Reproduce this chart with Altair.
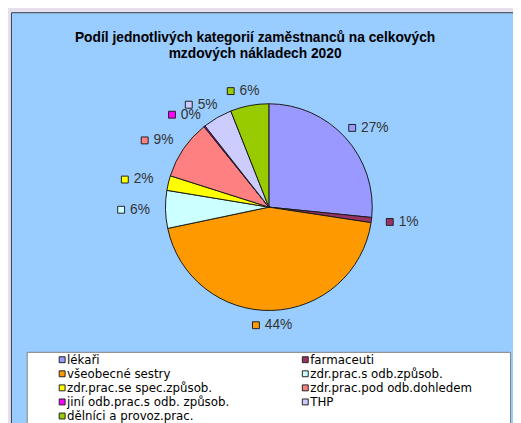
import math
import altair as alt
import pandas as pd

# ---- data ----
categories = [
    "lékaři",
    "farmaceuti",
    "všeobecné sestry",
    "zdr.prac.s odb.způsob.",
    "zdr.prac.se spec.způsob.",
    "zdr.prac.pod odb.dohledem",
    "jiní odb.prac.s odb. způsob.",
    "THP",
    "dělníci a provoz.prac.",
]
shares = [26.6, 0.8, 44.3, 5.9, 2.3, 9.3, 0.2, 4.6, 6.0]
colors = ["#9999ff", "#993366", "#ff9900", "#ccffff", "#ffff00",
          "#ff8080", "#ff00ff", "#ccccff", "#99cc00"]
title_lines = ["Podíl jednotlivých kategorií zaměstnanců na celkových",
               "mzdových nákladech 2020"]

# ---- layout ----
W, H = 513, 415
CX, CY, R = 265, 199, 105
FONT = "Liberation Sans"

pie_df = pd.DataFrame({"cat": categories, "share": shares, "idx": range(len(categories))})

# label positions derived from the slice angles (label groups sit on an ellipse around the pie)
total = sum(shares)
rows = []
cum = 0.0
for i, (c, s) in enumerate(zip(categories, shares)):
    mid = (cum + s / 2) / total * 2 * math.pi
    cum += s
    lab = f"{round(s)}%"
    tw = 7.8 * (len(lab) - 1) + 12.4
    gw = 14 + tw
    gx = CX + 137 * math.sin(mid)
    gy = CY - 120 * math.cos(mid)
    rows.append({"cat": c, "label": lab,
                 "mx": gx - gw / 2 + 4, "tx": gx - gw / 2 + 13, "y": gy})
lab_df = pd.DataFrame(rows)

leg_df = pd.DataFrame({
    "cat": categories,
    "mx": [55 + (i % 2) * 247 for i in range(len(categories))],
    "tx": [60 + (i % 2) * 247 for i in range(len(categories))],
    "y": [354 + (i // 2) * 14.3 for i in range(len(categories))],
})

title_df = pd.DataFrame({"line": title_lines, "y": [27 + 17 * i for i in range(len(title_lines))]})

fill_scale = alt.Scale(domain=categories, range=colors)
xs = alt.Scale(domain=[0, W], range=[0, W])
ys = alt.Scale(domain=[0, H], range=[0, H])

bg = alt.Chart(pd.DataFrame({"a": [0]})).mark_rect(
    fill="#99ccff", stroke="#3a3a4a", strokeWidth=1
).encode(x=alt.value(3.5), x2=alt.value(530), y=alt.value(1.5), y2=alt.value(430))

legbox = alt.Chart(pd.DataFrame({"a": [0]})).mark_rect(
    fill="white", stroke="#808080", strokeWidth=1
).encode(x=alt.value(19.5), x2=alt.value(510.5), y=alt.value(346.5), y2=alt.value(440))

title = alt.Chart(title_df).mark_text(
    font=FONT, fontSize=14, fontWeight="bold", color="#000000", baseline="middle", align="center"
).encode(x=alt.value(251), y=alt.Y("y:Q", scale=ys, axis=None), text="line:N")

pie = alt.Chart(pie_df).mark_arc(
    outerRadius=R, stroke="#1a1a1a", strokeWidth=1
).encode(
    theta=alt.Theta("share:Q", stack=True),
    fill=alt.Fill("cat:N", scale=fill_scale, legend=None),
    order=alt.Order("idx:Q"),
    x=alt.value(CX), y=alt.value(CY),
)

lab_marks = alt.Chart(lab_df).mark_square(size=49, stroke="#222222", strokeWidth=1, opacity=1).encode(
    x=alt.X("mx:Q", scale=xs, axis=None),
    y=alt.Y("y:Q", scale=ys, axis=None),
    fill=alt.Fill("cat:N", scale=fill_scale, legend=None),
)
lab_text = alt.Chart(lab_df).mark_text(
    font=FONT, fontSize=14, color="#333333", align="left", baseline="middle"
).encode(
    x=alt.X("tx:Q", scale=xs, axis=None),
    y=alt.Y("y:Q", scale=ys, axis=None),
    text="label:N",
)

leg_marks = alt.Chart(leg_df).mark_square(size=36, stroke="#222222", strokeWidth=1, opacity=1).encode(
    x=alt.X("mx:Q", scale=xs, axis=None),
    y=alt.Y("y:Q", scale=ys, axis=None),
    fill=alt.Fill("cat:N", scale=fill_scale, legend=None),
)
leg_text = alt.Chart(leg_df).mark_text(
    font="DejaVu Sans", fontSize=12, color="#000000", align="left", baseline="middle"
).encode(
    x=alt.X("tx:Q", scale=xs, axis=None),
    y=alt.Y("y:Q", scale=ys, axis=None),
    text="cat:N",
)

chart = alt.layer(bg, legbox, title, pie, lab_marks, lab_text, leg_marks, leg_text).properties(
    width=W, height=H, autosize=alt.AutoSizeParams(type="none"), padding=0,
    background="#e6e0ec",
).configure_view(strokeWidth=0)

chart.save("out.html", embed_options={"renderer": "svg", "actions": False})
